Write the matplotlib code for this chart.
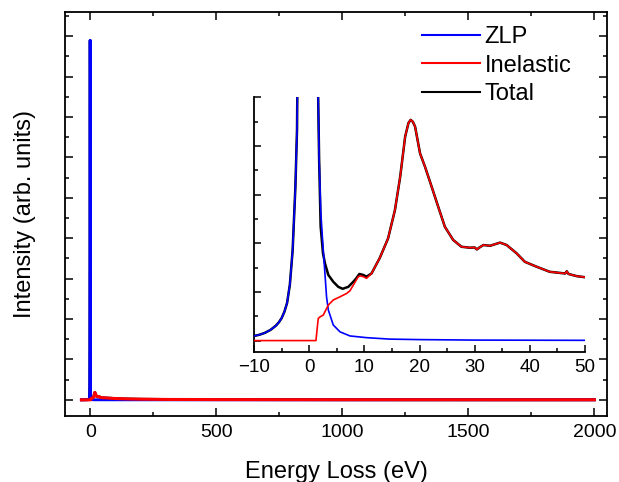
import matplotlib
matplotlib.use("Agg")
import matplotlib.pyplot as plt
from matplotlib.ticker import MultipleLocator, NullFormatter

plt.rcParams['font.family'] = ['Liberation Sans', 'DejaVu Sans']

# ---- data (energy loss in eV, intensity in arbitrary units) ----
zlp_e = [-35, -25, -18, -14, -10, -9, -8, -7, -6, -5.5, -5, -4.5, -4, -3.5, -3, -2.5,
         -2.2, -1.8, -1.4, -1.0, -0.6, -0.2, 0.2, 0.6, 1.0, 1.3, 1.6, 1.8, 2.1, 2.44,
         2.86, 3.15, 3.47, 4.37, 5.58, 7.4, 10.4, 14.6, 20, 30, 50, 100, 2000]
zlp_i = [0.02, 0.05, 0.08, 0.12, 0.19, 0.24, 0.32, 0.44, 0.62, 0.75, 0.92, 1.18, 1.55, 2.3, 3.7, 6.3,
         8.7, 20, 60, 180, 360, 445, 400, 250, 100, 35, 10.5, 7.5, 5.3, 4.1,
         2.76, 1.8, 1.26, 0.64, 0.36, 0.19, 0.12, 0.06, 0.04, 0.02, 0.01, 0.0, 0.0]

inel_e = [-35, -10, 1.23, 1.5, 1.65, 2.0, 2.56, 3.0, 3.47, 4.37, 5.58, 6.8, 7.4, 8.0, 8.9,
          9.3, 9.8, 10.4, 11.3, 12.8, 14.3, 15.55, 16.5, 17.4, 18.0, 18.4, 18.8, 19.2, 20.1,
          21.0, 22.2, 23.4, 24.6, 26.1, 27.6, 29.1, 30.0, 30.4, 31.0, 31.6, 32.8, 34.6, 35.8,
          37.6, 39.1, 41.2, 43.6, 46.4, 46.7, 47.0, 48.5, 50.2, 60, 80, 100, 150, 200, 300,
          500, 1000, 1500, 2000]
inel_i = [0, 0, 0, 0.6, 0.91, 0.98, 1.05, 1.25, 1.46, 1.67, 1.8, 1.94, 2.05, 2.28, 2.63,
          2.66, 2.63, 2.56, 2.76, 3.4, 4.2, 5.37, 6.74, 8.39, 8.95, 9.08, 9.0, 8.8, 7.7,
          7.15, 6.33, 5.5, 4.68, 4.14, 3.86, 3.82, 3.83, 3.75, 3.85, 3.93, 3.90, 4.03, 3.93,
          3.59, 3.24, 3.04, 2.83, 2.76, 2.85, 2.74, 2.65, 2.6, 2.4, 2.0, 1.6, 1.1, 0.8, 0.5,
          0.3, 0.15, 0.1, 0.08]

total_e = [-35, -25, -18, -14, -10, -9, -8, -7, -6, -5.5, -5, -4.5, -4, -3.5, -3, -2.5,
           -2.2, -1.8, -1.4, -1.0, -0.6, -0.2, 0.2, 0.6, 1.0, 1.3, 1.6, 1.8, 2.08, 2.5,
           2.86, 3.47, 4.37, 5.28, 6.07, 7.1, 8.0, 8.5, 9.1, 9.8, 10.4, 11.3, 12.8, 14.3,
           15.55, 16.5, 17.4, 18.0, 18.4, 18.8, 19.2, 20.1, 21.0, 22.2, 23.4, 24.6, 26.1,
           27.6, 29.1, 30.0, 30.4, 31.0, 31.6, 32.8, 34.6, 35.8, 37.6, 39.1, 41.2, 43.6,
           46.4, 46.7, 47.0, 48.5, 50.2, 60, 80, 100, 150, 200, 300, 500, 1000, 1500, 2000]
total_i = [0.02, 0.05, 0.08, 0.12, 0.19, 0.24, 0.32, 0.44, 0.62, 0.75, 0.92, 1.18, 1.55, 2.3, 3.7, 6.3,
           8.7, 20, 60, 180, 360, 445, 400, 250, 100, 35, 10.5, 7.5, 4.7, 3.6,
           3.18, 2.7, 2.42, 2.21, 2.13, 2.21, 2.42, 2.55, 2.74, 2.7, 2.63, 2.76, 3.4, 4.2,
           5.37, 6.74, 8.39, 8.95, 9.08, 9.0, 8.8, 7.7, 7.15, 6.33, 5.5, 4.68, 4.14,
           3.86, 3.82, 3.83, 3.75, 3.85, 3.93, 3.90, 4.03, 3.93, 3.59, 3.24, 3.04, 2.83,
           2.76, 2.85, 2.74, 2.65, 2.6, 2.4, 2.0, 1.6, 1.1, 0.8, 0.5, 0.3, 0.15, 0.1, 0.08]

labels = ["ZLP", "Inelastic", "Total"]
colors = ["#0000ff", "#ff0000", "#000000"]

fig = plt.figure(figsize=(6.19, 4.82), dpi=100)
ax = fig.add_axes([65/619, (482-416)/482, (607-65)/619, (416-12)/482])

lt, = ax.plot(total_e, total_i, color=colors[2], lw=2.0, zorder=2)
lz, = ax.plot(zlp_e, zlp_i, color=colors[0], lw=2.0, zorder=3)
li, = ax.plot(inel_e, inel_i, color=colors[1], lw=2.2, zorder=4)

ax.set_xlim(-100, 2050)
ax.set_ylim(-20, 480)
ax.xaxis.set_major_locator(MultipleLocator(500))
ax.xaxis.set_minor_locator(MultipleLocator(250))
ax.yaxis.set_major_locator(MultipleLocator(50))
ax.yaxis.set_minor_locator(MultipleLocator(25))
ax.yaxis.set_major_formatter(NullFormatter())
ax.tick_params(which='both', direction='in', top=True, right=True, width=1.1)
ax.tick_params(which='major', length=5.5, labelsize=14, pad=5.5)
ax.tick_params(which='minor', length=3)
for s in ax.spines.values():
    s.set_linewidth(1.3)
ax.set_xlabel("Energy Loss (eV)", fontsize=17, labelpad=15)
ax.set_ylabel("Intensity (arb. units)", fontsize=17, labelpad=15.5)

leg = ax.legend([lz, li, lt], labels, loc='upper left', bbox_to_anchor=(422/619, 1 - 26/482),
                bbox_transform=fig.transFigure, frameon=False, fontsize=17, borderpad=0,
                borderaxespad=0, handlelength=2.45, handletextpad=0.2, labelspacing=0.28)
for h in leg.get_lines():
    h.set_linewidth(1.5)

# ---- inset ----
axi = fig.add_axes([254/619, (482-352)/482, (585-254)/619, (352-97)/482])
axi.plot(total_e, total_i, color=colors[2], lw=1.8, zorder=2)
axi.plot(zlp_e, zlp_i, color=colors[0], lw=1.2, zorder=3)
axi.plot(inel_e, inel_i, color=colors[1], lw=1.2, zorder=4)
axi.set_xlim(-10, 50)
axi.set_ylim(-0.47, 10.02)
axi.xaxis.set_major_locator(MultipleLocator(10))
axi.xaxis.set_minor_locator(MultipleLocator(5))
axi.yaxis.set_major_locator(MultipleLocator(2))
axi.yaxis.set_minor_locator(MultipleLocator(1))
axi.yaxis.set_major_formatter(NullFormatter())
axi.spines['top'].set_visible(False)
axi.spines['right'].set_visible(False)
for s in ('left', 'bottom'):
    axi.spines[s].set_linewidth(1.3)
axi.tick_params(which='both', direction='in', width=1.1)
axi.tick_params(which='major', length=5, labelsize=13.5, pad=5)
axi.tick_params(which='minor', length=3)
axi.patch.set_alpha(0)

fig.savefig("out.png", dpi=100)
